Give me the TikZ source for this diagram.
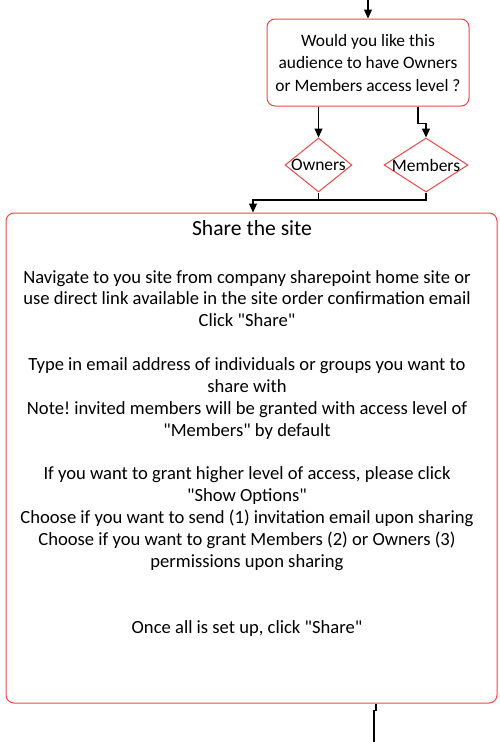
\documentclass[tikz,border=0pt]{standalone}
\usepackage{fontspec}
\setmainfont{Carlito}[Ligatures=TeXOff]
\usetikzlibrary{arrows.meta,shapes.geometric}
\definecolor{boxred}{RGB}{240,70,70}

\begin{document}
\frenchspacing
\begin{tikzpicture}[x=1pt,y=-1pt,
  box/.style={draw=boxred, line width=1pt, rounded corners=8pt, inner sep=0pt},
  dia/.style={diamond, draw=boxred, line width=1pt, inner sep=0pt},
  flow/.style={draw=black, line width=1.2pt, -{Triangle[width=8pt,length=9pt]}},
  link/.style={draw=black, line width=1.2pt},
  qtext/.style={anchor=base, inner sep=0pt, font=\fontsize{17.4}{22}\selectfont},
  dtext/.style={inner sep=0pt, font=\fontsize{17.5}{20}\selectfont},
  body/.style={anchor=base, inner sep=0pt, font=\fontsize{18.6}{22}\selectfont},
]
\useasboundingbox (0,0) rectangle (499,742);

% question box
\node[box, minimum width=202pt, minimum height=87pt] (q) at (368,62.5) {};
\node[qtext] (q1) at (368,46) {Would you like this};
\node[qtext] (q2) at (368,68.5) {audience to have Owners};
\node[qtext] (q3) at (368,91) {or Members access level ?};

% decisions
\node[dia, minimum width=67pt, minimum height=54pt] (own) at (318.5,165) {};
\node[dtext] (ownl) at (own) {Owners};
\node[dia, minimum width=84pt, minimum height=54pt] (mem) at (426,165) {};
\node[dtext] (meml) at (mem) {Members};

% main step
\node[box, minimum width=491pt, minimum height=490pt] (main) at (251.5,458) {};
\node[anchor=base, inner sep=0pt, font=\fontsize{21.6}{26}\selectfont] (title) at (252,235.5) {Share the site};
\foreach \t [count=\i from 0] in {
  {Navigate to you site from company sharepoint home site or},
  {use direct link available in the site order confirmation email},
  {Click "Share"},
  {},
  {Type in email address of individuals or groups you want to},
  {share with},
  {Note! invited members will be granted with access level of},
  {"Members" by default},
  {},
  {If you want to grant higher level of access, please click},
  {"Show Options"},
  {Choose if you want to send (1) invitation email upon sharing},
  {Choose if you want to grant Members (2) or Owners (3)},
  {permissions upon sharing},
  {},
  {},
  {Once all is set up, click "Share"}}
  \node[body] (b\i) at (247,283+21.875*\i) {\t};

% connectors
\coordinate (entry) at (368,0);
\draw[flow] (entry) -- (q.north);
\draw[flow] (q.south -| own) -- (own.north);
\draw[flow] ([xshift=50pt]q.south) -- ++(0,17) -| (mem.north);
\coordinate (bend) at (253,200);
\draw[link] (own.south) |- (bend);
\draw[flow] (mem.south) |- (bend) -- (bend |- main.north);
\coordinate (exit) at (374,742);
\draw[link] ([xshift=124.5pt]main.south) -- ++(0,7) -| (exit);
\end{tikzpicture}
\end{document}
